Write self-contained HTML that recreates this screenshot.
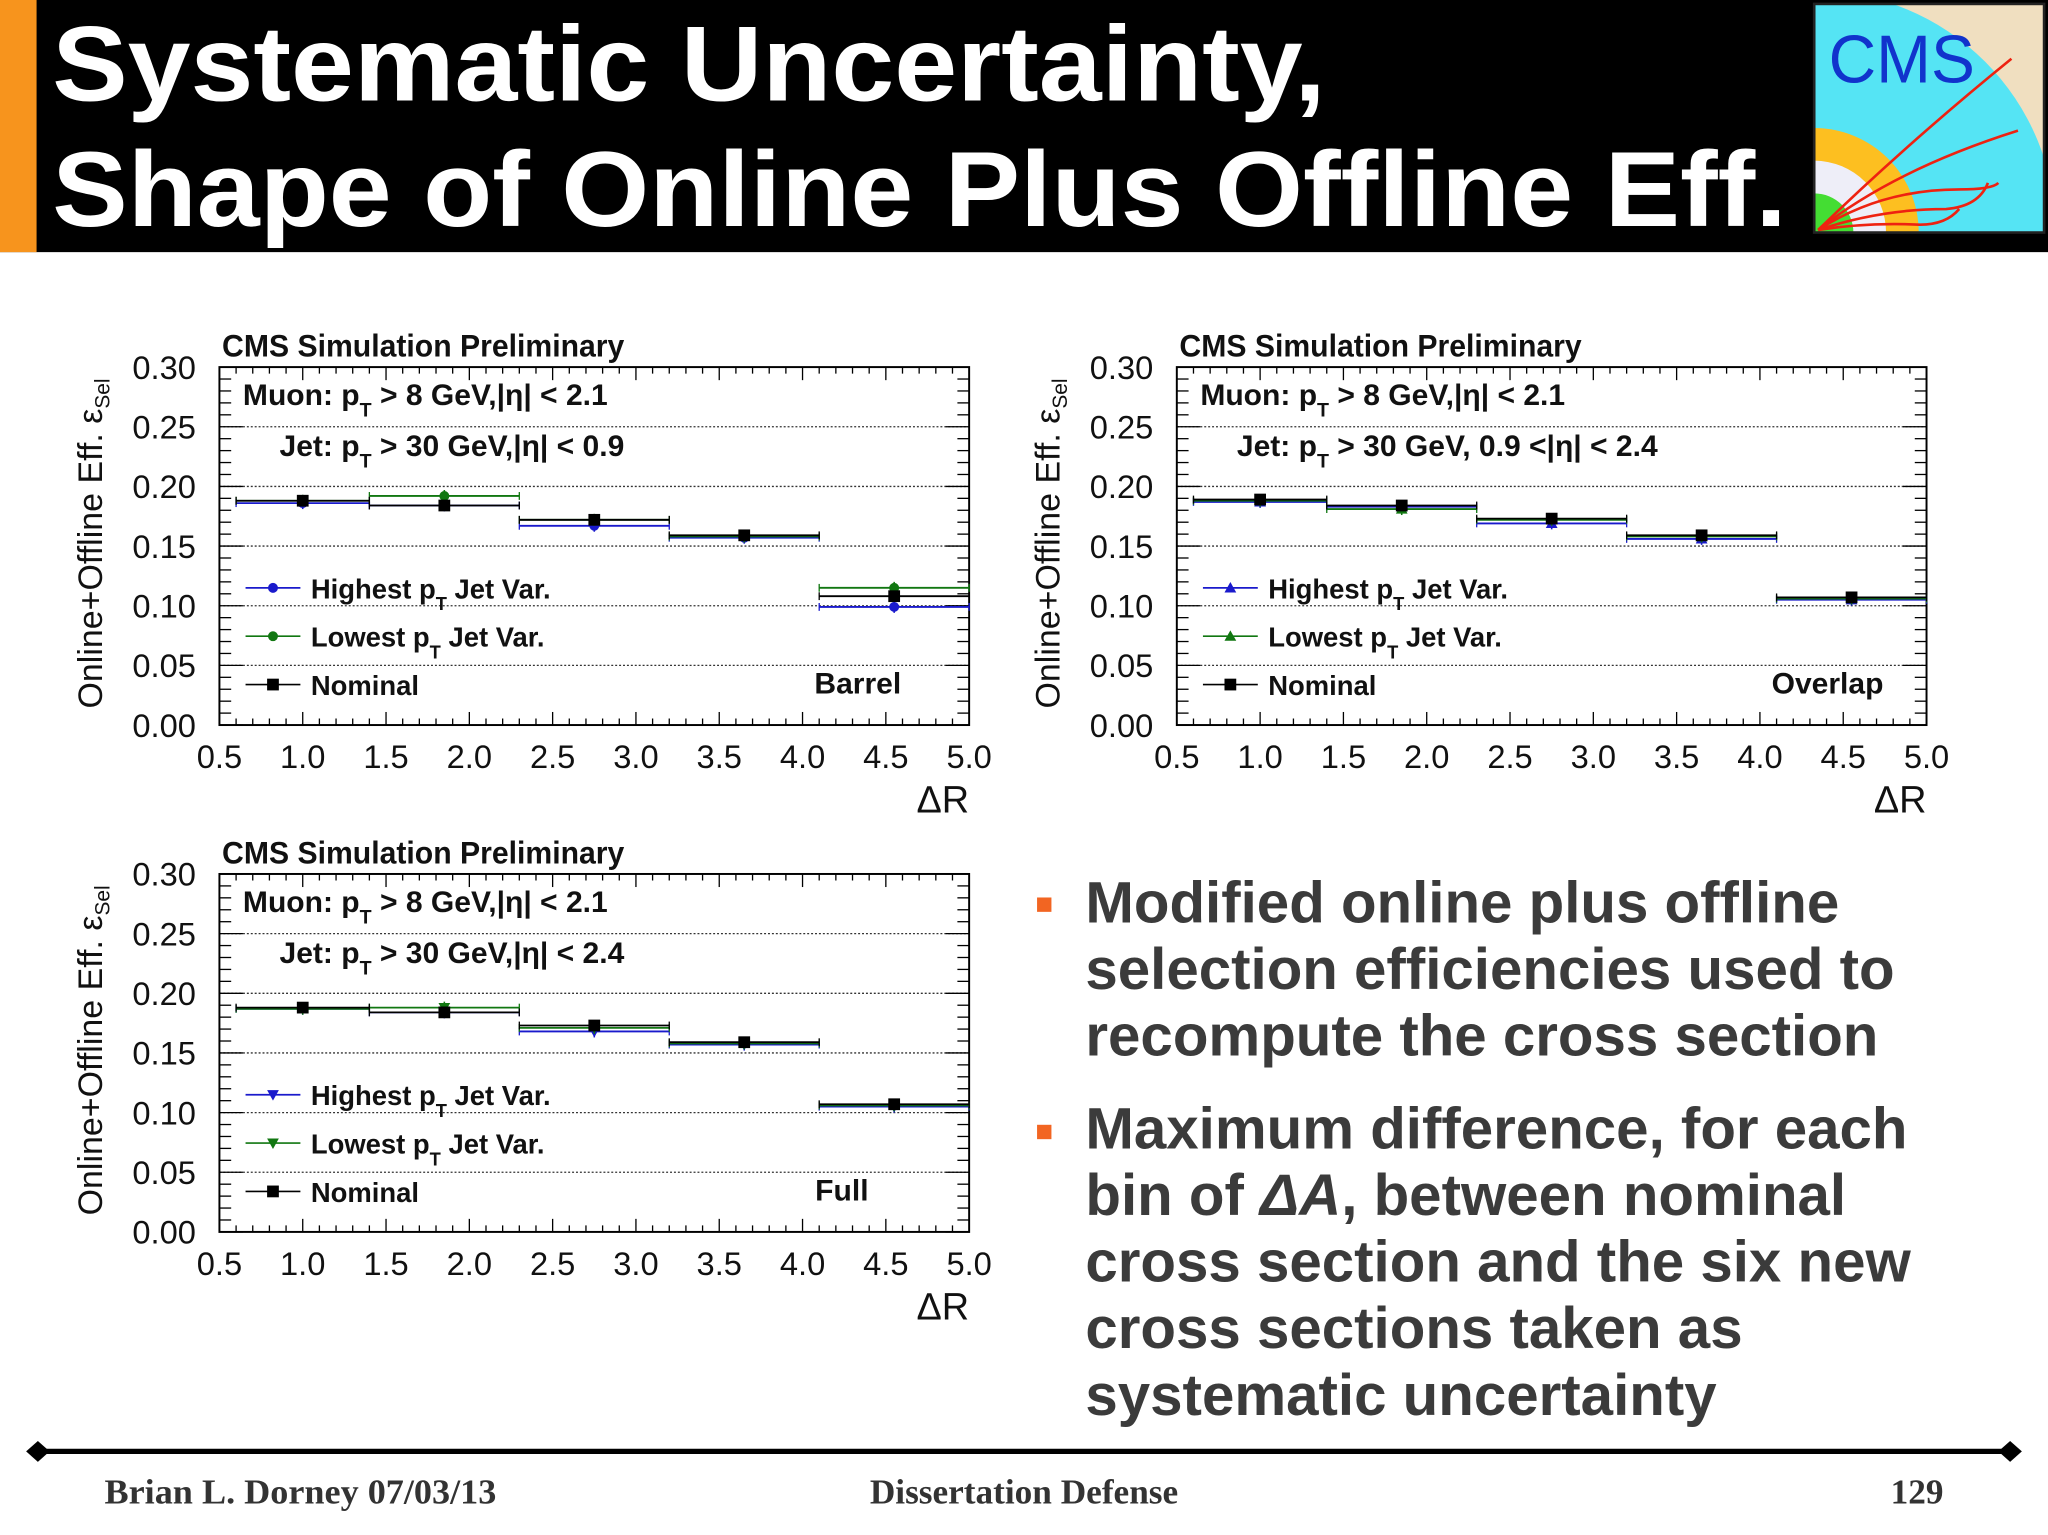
<!DOCTYPE html>
<html><head><meta charset="utf-8"><style>
html,body{margin:0;padding:0;background:#fff;}
svg{display:block;}
.pt{font-family:"Liberation Sans Narrow","Liberation Sans",sans-serif;font-weight:bold;fill:#111;}
.tk{font-family:"Liberation Sans",sans-serif;fill:#111;}
</style></head><body>
<svg id="s" width="2048" height="1535" viewBox="0 0 1568 1175" preserveAspectRatio="none" xmlns="http://www.w3.org/2000/svg">
<rect x="0" y="0" width="1568" height="193" fill="#000"/>
<rect x="0" y="0" width="28" height="193" fill="#f7941d"/>
<text x="40" y="77" font-family="Liberation Sans, sans-serif" font-weight="bold" font-size="82" fill="#fff" textLength="975" lengthAdjust="spacingAndGlyphs">Systematic Uncertainty,</text>
<text x="40" y="173" font-family="Liberation Sans, sans-serif" font-weight="bold" font-size="82" fill="#fff" textLength="1328" lengthAdjust="spacingAndGlyphs">Shape of Online Plus Offline Eff.</text>
<g>
<clipPath id="lc"><rect x="1389" y="3" width="176" height="175"/></clipPath>
<g clip-path="url(#lc)">
<rect x="1389" y="3" width="176" height="175" fill="#f0dfc0"/>
<circle cx="1389" cy="178" r="185" fill="#55e4f4"/>
<circle cx="1389" cy="178" r="80" fill="#fdbf20"/>
<circle cx="1389" cy="178" r="55" fill="#eeeef8"/>
<circle cx="1389" cy="178" r="30" fill="#44dd33"/>
<text x="1400" y="63" font-family="Liberation Sans, sans-serif" font-size="52" fill="#1133cc" textLength="112" lengthAdjust="spacingAndGlyphs">CMS</text>
<g fill="none" stroke="#ee2211" stroke-width="2">
<path d="M1392 176 Q1460 110 1540 45"/>
<path d="M1392 176 Q1450 130 1545 100"/>
<path d="M1392 176 Q1440 145 1500 145 Q1525 145 1530 140"/>
<path d="M1392 176 Q1440 160 1490 160 Q1515 158 1522 140"/>
<path d="M1392 176 Q1430 170 1470 172 Q1490 172 1500 160"/>
</g></g>
<rect x="1389" y="3" width="176" height="175" fill="none" stroke="#222" stroke-width="2"/>
</g>
<g id="plots"></g>
<g font-family="Liberation Sans, sans-serif" font-weight="bold" font-size="44.6" fill="#3b3b3b">
<rect x="794" y="687" width="11" height="11" fill="#f26522"/>
<text><tspan x="831" y="706">Modified online plus offline</tspan><tspan x="831" y="757">selection efficiencies used to</tspan><tspan x="831" y="808">recompute the cross section</tspan></text>
<rect x="794" y="861" width="11" height="11" fill="#f26522"/>
<text><tspan x="831" y="879">Maximum difference, for each</tspan><tspan x="831" y="930">bin of <tspan font-style="italic">ΔA</tspan>, between nominal</tspan><tspan x="831" y="981">cross section and the six new</tspan><tspan x="831" y="1032">cross sections taken as</tspan><tspan x="831" y="1083">systematic uncertainty</tspan></text>
</g>
<g>
<line x1="28" y1="1111" x2="1540" y2="1111" stroke="#000" stroke-width="4"/>
<path d="M20 1111 L29 1103 L38 1111 L29 1119Z" fill="#000"/>
<path d="M1530 1111 L1539 1103 L1548 1111 L1539 1119Z" fill="#000"/>
<g font-family="Liberation Serif, serif" font-weight="bold" font-size="27" fill="#333">
<text x="80" y="1151" textLength="300" lengthAdjust="spacingAndGlyphs">Brian L. Dorney 07/03/13</text>
<text x="784" y="1151" text-anchor="middle">Dissertation Defense</text>
<text x="1488" y="1151" text-anchor="end">129</text>
</g></g>
</svg>
<script>
const binEdges=[0.6,1.4,2.3,3.2,4.1,5.0];
const binCenters=[1.0,1.85,2.75,3.65,4.55];
const xTickLabels=["0.5","1.0","1.5","2.0","2.5","3.0","3.5","4.0","4.5","5.0"];
const yTickLabels=["0.00","0.05","0.10","0.15","0.20","0.25","0.30"];
const barrelNominal=[0.188,0.184,0.172,0.159,0.108];
const barrelHighest=[0.186,0.184,0.167,0.157,0.099];
const barrelLowest=[0.188,0.192,0.172,0.158,0.115];
const overlapNominal=[0.189,0.184,0.173,0.159,0.107];
const overlapHighest=[0.187,0.183,0.169,0.156,0.105];
const overlapLowest=[0.188,0.181,0.172,0.158,0.106];
const fullNominal=[0.188,0.184,0.173,0.159,0.107];
const fullHighest=[0.187,0.184,0.168,0.157,0.105];
const fullLowest=[0.187,0.188,0.171,0.158,0.106];

const NS="http://www.w3.org/2000/svg";
function mk(p,tag,at,txt){const e=document.createElementNS(NS,tag);for(const k in at)e.setAttribute(k,at[k]);if(txt!==undefined)e.textContent=txt;p.appendChild(e);return e;}
const root=document.getElementById('plots');

function marker(g,shape,cx,cy,col){
  let e;
  if(shape==='circle')e=mk(g,'circle',{cx:cx,cy:cy,r:3.8,fill:col});
  else if(shape==='square')e=mk(g,'rect',{x:cx-4.5,y:cy-4.5,width:9,height:9,fill:col});
  else if(shape==='up')e=mk(g,'path',{d:`M${cx} ${cy-4.5}L${cx+4.5} ${cy+3.5}L${cx-4.5} ${cy+3.5}Z`,fill:col});
  else e=mk(g,'path',{d:`M${cx} ${cy+4.5}L${cx+4.5} ${cy-3.5}L${cx-4.5} ${cy-3.5}Z`,fill:col});
  return e;
}

function panel(name,X,Y,W,H,jetText,region,regionEnd,nom,hi,lo,shape){
  const g=mk(root,'g',{});
  
  
  const xs=v=>X+(v-0.5)/4.5*W, ys=v=>Y+H-(v/0.30)*H;
  for(let i=1;i<6;i++){const l=mk(g,'line',{x1:X,x2:X+W,y1:ys(i*0.05),y2:ys(i*0.05),stroke:'#333','stroke-width':1,'stroke-dasharray':'1.5 1.5'});
    
    }
  const fr=mk(g,'rect',{x:X,y:Y,width:W,height:H,fill:'none',stroke:'#000','stroke-width':1.5});
  
  
  for(let i=0;i<=45;i++){const v=0.5+i*0.1;const L=(i%5===0)?10:5;const x=xs(v);
    mk(g,'line',{x1:x,x2:x,y1:Y+H,y2:Y+H-L,stroke:'#000','stroke-width':1});
    mk(g,'line',{x1:x,x2:x,y1:Y,y2:Y+L,stroke:'#000','stroke-width':1});}
  for(let i=0;i<=30;i++){const v=i*0.01;const L=(i%5===0)?18:9;const y=ys(v);
    mk(g,'line',{x1:X,x2:X+L,y1:y,y2:y,stroke:'#000','stroke-width':1});
    mk(g,'line',{x1:X+W,x2:X+W-L,y1:y,y2:y,stroke:'#000','stroke-width':1});}
  xTickLabels.forEach((t,i)=>{const e=mk(g,'text',{x:xs(parseFloat(t)),y:Y+H+33,'text-anchor':'middle','font-size':25,class:'tk'},t);
    
    });
  yTickLabels.forEach(t=>{const e=mk(g,'text',{x:X-18,y:ys(parseFloat(t))+9,'text-anchor':'end','font-size':25,class:'tk'},t);
    
    });
  const xt=mk(g,'text',{x:X+W,y:Y+H+67,'text-anchor':'end','font-size':29,class:'tk'},'ΔR');
  
  
  const yt=mk(g,'text',{transform:`translate(${X-90},${Y+H/2-2}) rotate(-90)`,'text-anchor':'middle','font-size':26,class:'tk'});
  yt.innerHTML='Online+Offline Eff. ε<tspan font-size="16" dy="6">Sel</tspan>';
  
  
  const ct=mk(g,'text',{x:X+2,y:Y-8,'font-size':24,class:'pt',textLength:308,lengthAdjust:'spacingAndGlyphs'},'CMS Simulation Preliminary');
  
  
  const m1=mk(g,'text',{x:X+18,y:Y+29,'font-size':23,class:'pt'});
  m1.innerHTML='Muon: p<tspan font-size="15" dy="9">T</tspan><tspan dy="-9"> &gt; 8 GeV,|η| &lt; 2.1</tspan>';
  
  
  const j1=mk(g,'text',{x:X+46,y:Y+68,'font-size':23,class:'pt'});
  j1.innerHTML='Jet: p<tspan font-size="15" dy="9">T</tspan><tspan dy="-9"> &gt; '+jetText+'</tspan>';
  
  
  const rg=mk(g,'text',{x:X+regionEnd,y:Y+250,'text-anchor':'end','font-size':23,class:'pt'},region);
  
  
  const leg=[['Highest p','T',' Jet Var.','#1a1acc',shape,Y+169],['Lowest  p','T',' Jet Var.','#117711',shape,Y+206],['Nominal','','','#000','square',Y+243]];
  leg.forEach(l=>{const lg=mk(g,'g',{});
    
    
    mk(lg,'line',{x1:X+20,x2:X+62,y1:l[5],y2:l[5],stroke:l[3],'stroke-width':1.3});
    marker(lg,l[4],X+41,l[5],l[3]);
    const t=mk(lg,'text',{x:X+70,y:l[5]+8,'font-size':21,class:'pt'});
    t.innerHTML=l[0]+(l[1]?'<tspan font-size="14" dy="9">T</tspan><tspan dy="-9">'+l[2]+'</tspan>':'');});
  const series=[[hi,'#1a1acc',shape,'series-highest',0.005],[lo,'#117711',shape,'series-lowest',0.005],[nom,'#000','square','series-nominal',0.003]];
  series.forEach(s=>{const sg=mk(g,'g',{});
    
    
    s[0].forEach((v,i)=>{const y=ys(v);
      mk(sg,'line',{x1:xs(binEdges[i]),x2:xs(binEdges[i+1]),y1:y,y2:y,stroke:s[1],'stroke-width':1.4});
      mk(sg,'line',{x1:xs(binEdges[i]),x2:xs(binEdges[i]),y1:y-3,y2:y+3,stroke:s[1],'stroke-width':1});
      mk(sg,'line',{x1:xs(binEdges[i+1]),x2:xs(binEdges[i+1]),y1:y-3,y2:y+3,stroke:s[1],'stroke-width':1});
      const cx=xs(binCenters[i]);
      mk(sg,'line',{x1:cx,x2:cx,y1:ys(v+s[4]),y2:ys(v-s[4]),stroke:s[1],'stroke-width':1.2});
      const m=marker(sg,s[2],cx,y,s[1]);
      
      });});
}
panel('barrel-plot',168,281,574,274,'30 GeV,|η| &lt; 0.9','Barrel',522,barrelNominal,barrelHighest,barrelLowest,'circle');
panel('overlap-plot',901,281,574,274,'30 GeV, 0.9 &lt;|η| &lt; 2.4','Overlap',541,overlapNominal,overlapHighest,overlapLowest,'up');
panel('full-plot',168,669,574,274,'30 GeV,|η| &lt; 2.4','Full',497,fullNominal,fullHighest,fullLowest,'down');
</script>
</body></html>
